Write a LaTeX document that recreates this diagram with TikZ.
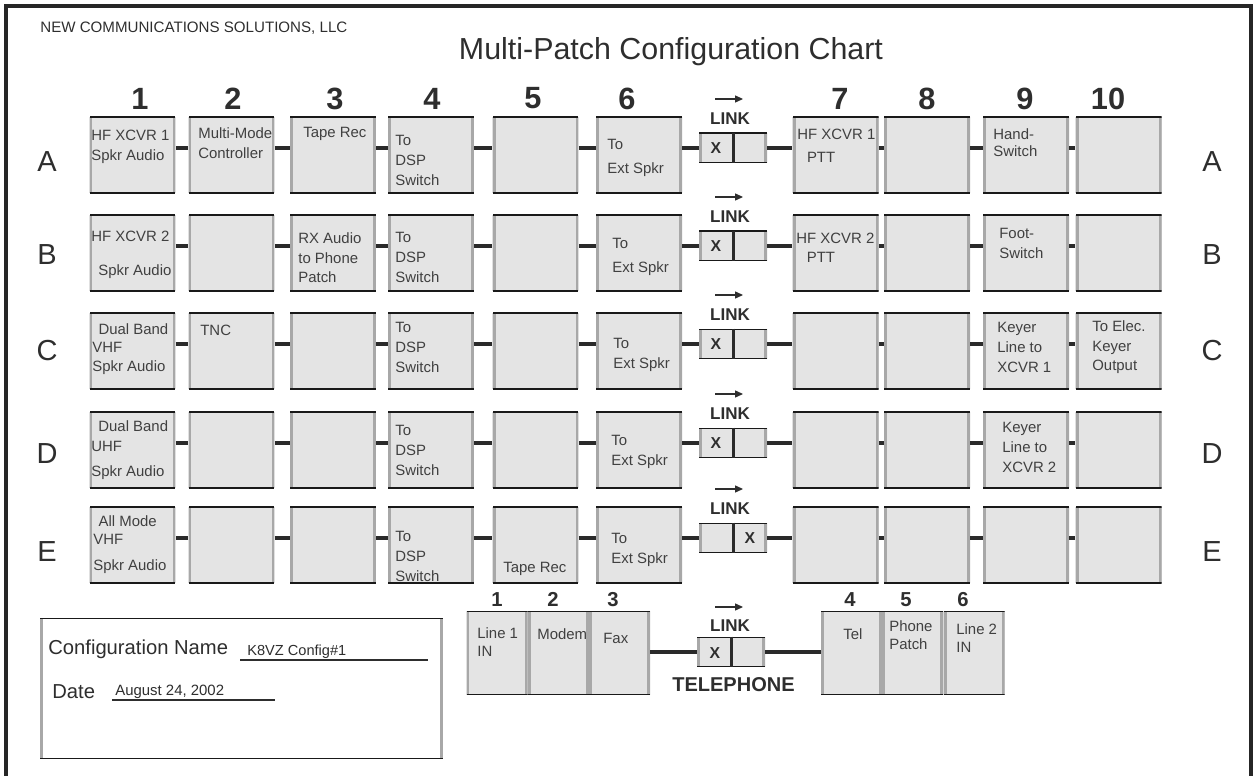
\documentclass[tikz,border=0pt]{standalone}
\usepackage{fontspec}
\setmainfont{Liberation Sans}
\usetikzlibrary{arrows.meta}
\definecolor{cellfill}{HTML}{E4E4E4}
\definecolor{edgegray}{HTML}{A8A8A8}
\definecolor{inkgray}{HTML}{2E2E2E}
\definecolor{wiregray}{HTML}{2A2A2A}
\begin{document}
\begin{tikzpicture}[x=0.02cm, y=-0.02cm,
          cell/.style={fill=cellfill, inner sep=0pt, minimum width=1.72cm, minimum height=1.54cm,
            path picture={
              \draw[edgegray, line width=3.4pt] (path picture bounding box.north west) -- (path picture bounding box.south west)
                (path picture bounding box.north east) -- (path picture bounding box.south east);
              \draw[black!90, line width=1.5pt] (path picture bounding box.north west) -- (path picture bounding box.north east)
                (path picture bounding box.south west) -- (path picture bounding box.south east);}},
          linkbox/.style={cell, minimum width=1.36cm, minimum height=0.6cm},
          telcell/.style={cell, minimum width=1.22cm, minimum height=1.68cm},
          confbox/.style={cell, fill=white, minimum width=8.06cm, minimum height=2.82cm},
          wire/.style={wiregray, line width=2.8pt},
          divider/.style={wiregray, line width=1.7pt},
          txt/.style={anchor=north west, inner sep=0pt, align=left, text=black!75,
            font=\fontsize{8.5}{11.3}\selectfont},
          colnum/.style={inner sep=0pt, text=inkgray, font=\fontsize{17.5}{20}\selectfont\bfseries},
          rowlet/.style={inner sep=0pt, text=inkgray, font=\fontsize{16.5}{20}\selectfont},
          linklbl/.style={inner sep=0pt, text=inkgray, font=\fontsize{9.7}{11}\selectfont\bfseries},
          xmark/.style={inner sep=0pt, text=inkgray, font=\fontsize{9}{11}\selectfont\bfseries},
          telnum/.style={inner sep=0pt, text=inkgray, font=\fontsize{11.5}{13}\selectfont\bfseries},
          linkarrow/.style={-{Triangle[length=4.5pt,width=4pt]}, line width=0.6pt, inkgray}]
        \useasboundingbox (0,0) rectangle (1254,776);
        \draw[line width=2.3pt, black!85] (6,776) -- (6,6) -- (1251,6) -- (1251,776);
        % heading
        \node[anchor=base west, inner sep=0pt, text=inkgray, font=\fontsize{8.6}{10}\selectfont] (firm) at (40,33) {NEW COMMUNICATIONS SOLUTIONS, LLC};
        \node[anchor=base, inner sep=0pt, text=inkgray, font=\fontsize{17.3}{20}\selectfont] (title) at (671,60) {Multi-Patch Configuration Chart};
        \foreach \n/\x in {1/140,2/233,3/335,4/432,5/533,6/627,7/840,8/927,9/1025,10/1108}
          \node[colnum] (num\n) at (\x,98.5) {\n};
        % patch rows
        \foreach \row/\y/\xx/\ly in {A/155/716/162,B/253/716/255,C/351/716/351,D/450/716/454,E/545/750/552}{
          \foreach \col/\x in {1/132.5,2/231.5,3/333,4/431,5/535.5,6/639,7/835.5,8/927,9/1026,10/1118.5}
            \node[cell] (\row\col) at (\x,\y) {};
          \node[linkbox] (l\row) at (733,\y-7) {};
          \draw[divider] (l\row.north) -- (l\row.south);
          \node[xmark] (x\row) at (\xx,\y-7) {X};
          \node[linklbl] (k\row) at (730,\y-36) {LINK};
          \draw[linkarrow] ([shift={(-15,-20)}]k\row.center) -- ++(28,0);
          \node[rowlet] (left\row) at (47,\ly) {\row};
          \node[rowlet] (right\row) at (1212,\ly) {\row};
          \foreach \a/\b in {1/2,2/3,3/4,4/5,5/6,7/8,8/9,9/10}
            \draw[wire] (\row\a.east |- l\row) -- (\row\b.west |- l\row);
          \draw[wire] (\row6.east |- l\row) -- (l\row.west);
          \draw[wire] (l\row.east) -- (\row7.west |- l\row);
        }
        % cell texts
        \node[txt] at (91,130) {HF XCVR 1\\Spkr Audio};
        \node[txt] at (198,127) {Multi-Mode\\Controller};
        \node[txt] at (303,127) {Tape Rec};
        \node[txt] at (395,135) {To\\DSP\\Switch};
        \node[txt] at (607,139) {To\\[2.3pt]Ext Spkr};
        \node[txt] at (797,129) {HF XCVR 1\\[1.7pt]\hspace*{5.5pt}PTT};
        \node[txt] at (993,128) {Hand-\\[-1.7pt]Switch};
        \node[txt] at (91,231) {HF XCVR 2\\[7.9pt]\hspace*{4pt}Spkr Audio};
        \node[txt] at (298,232) {RX Audio\\to Phone\\Patch};
        \node[txt] at (395,232) {To\\DSP\\Switch};
        \node[txt] at (612,238) {To\\[2.3pt]Ext Spkr};
        \node[txt] at (796,233) {HF XCVR 2\\[-0.6pt]\hspace*{6pt}PTT};
        \node[txt] at (999,228) {Foot-\\Switch};
        \node[txt] at (92,323) {\hspace*{3.5pt}Dual Band\\[-0.6pt]VHF\\[-0.6pt]Spkr Audio};
        \node[txt] at (200,325) {TNC};
        \node[txt] at (395,322) {To\\DSP\\Switch};
        \node[txt] at (613,338) {To\\Ext Spkr};
        \node[txt] at (997,322) {Keyer\\Line to\\XCVR 1};
        \node[txt] at (1092,320) {To Elec.\\Keyer\\Output};
        \node[txt] at (91,420) {\hspace*{4pt}Dual Band\\UHF\\[3.4pt]Spkr Audio};
        \node[txt] at (395,425) {To\\DSP\\Switch};
        \node[txt] at (611,435) {To\\Ext Spkr};
        \node[txt] at (1002,422) {Keyer\\Line to\\XCVR 2};
        \node[txt] at (93,515) {\hspace*{3pt}All Mode\\[-1.1pt]VHF\\[4pt]Spkr Audio};
        \node[txt] at (395,531) {To\\DSP\\Switch};
        \node[txt] at (503,562) {Tape Rec};
        \node[txt] at (611,533) {To\\Ext Spkr};
        % telephone
        \node[telcell] (t1) at (497,653) {};
        \node[telcell] (t2) at (558.5,653) {};
        \node[telcell] (t3) at (619.5,653) {};
        \node[linkbox] (lT) at (731,652) {};
        \node[telcell] (t4) at (851.5,653) {};
        \node[telcell] (t5) at (912.5,653) {};
        \node[telcell] (t6) at (974,653) {};
        \draw[divider] (lT.north) -- (lT.south);
        \draw[wire] (t3.east |- lT) -- (lT.west);
        \draw[wire] (lT.east) -- (t4.west |- lT);
        \node[xmark] (xT) at (715,653) {X};
        \node[linklbl] (kT) at (730,626) {LINK};
        \draw[linkarrow] ([shift={(-15,-19)}]kT.center) -- ++(28,0);
        \node[inner sep=0pt, text=inkgray, font=\fontsize{11.4}{13}\selectfont\bfseries] (phone) at (733.5,684.5) {TELEPHONE};
        \foreach \n/\x in {1/497,2/553,3/613,4/850,5/906,6/963}
          \node[telnum] (tn\n) at (\x,599.5) {\n};
        \node[txt] at (477,627) {Line 1\\[-1.1pt]IN};
        \node[txt] at (537,628) {Modem};
        \node[txt] at (603,633) {Fax};
        \node[txt] at (843,628) {Tel};
        \node[txt] at (889,620) {Phone\\[-0.6pt]Patch};
        \node[txt] at (956,623) {Line 2\\[-0.6pt]IN};
        % configuration
        \node[confbox] (conf) at (241.5,688.5) {};
        \node[anchor=base west, inner sep=0pt, text=inkgray, font=\fontsize{11.5}{13}\selectfont] (cname) at (48,654) {Configuration Name};
        \node[anchor=base west, inner sep=0pt, text=inkgray, font=\fontsize{11.5}{13}\selectfont] (cdate) at (52,698) {Date};
        \node[anchor=base west, inner sep=0pt, text=inkgray, font=\fontsize{8.3}{10}\selectfont] (vname) at (247,655) {K8VZ Config\#1};
        \node[anchor=base west, inner sep=0pt, text=inkgray, font=\fontsize{8.5}{10}\selectfont] (vdate) at (115,695) {August 24, 2002};
        \draw[inkgray, line width=0.6pt] (240,660) -- (428,660);
        \draw[inkgray, line width=0.6pt] (112,700) -- (275,700);
      \end{tikzpicture}
\end{document}
